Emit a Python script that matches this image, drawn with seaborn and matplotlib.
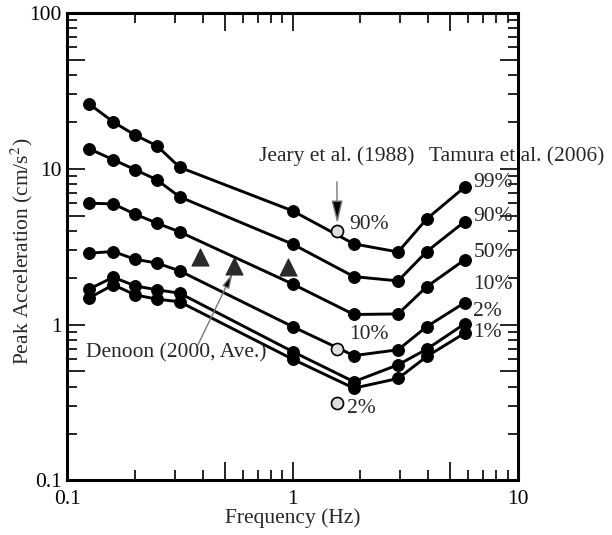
import numpy as np
import pandas as pd
import matplotlib
matplotlib.use("Agg")
import matplotlib.pyplot as plt
import matplotlib.ticker as mticker
import seaborn as sns

# ---- data ----
freq = [0.125, 0.16, 0.2, 0.25, 0.315, 1.0, 1.87, 2.94, 3.94, 5.8]
p99 = [26.0, 19.9, 16.4, 14.0, 10.2, 5.36, 3.29, 2.92, 4.76, 7.6]
p90 = [13.4, 11.4, 9.85, 8.47, 6.59, 3.28, 2.03, 1.905, 2.94, 4.57]
p50 = [6.0, 5.94, 5.1, 4.47, 3.93, 1.82, 1.16, 1.17, 1.75, 2.6]
p10 = [2.87, 2.94, 2.62, 2.48, 2.21, 0.97, 0.632, 0.689, 0.97, 1.38]
p2 = [1.69, 2.01, 1.77, 1.67, 1.59, 0.671, 0.43, 0.552, 0.695, 1.01]
p1 = [1.48, 1.80, 1.55, 1.455, 1.40, 0.60, 0.391, 0.451, 0.624, 0.88]
levels = ["99%", "90%", "50%", "10%", "2%", "1%"]

jeary_freq = [1.58, 1.58, 1.58]
jeary_acc = [3.99, 0.695, 0.316]
jeary_labels = ["90%", "10%", "2%"]

denoon_freq = [0.39, 0.548, 0.953]
denoon_acc = [2.73, 2.38, 2.33]

x_ticks = [0.1, 1, 10]
y_ticks = [0.1, 1, 10, 100]

# ---- build long-form table ----
series = [p99, p90, p50, p10, p2, p1]
df = pd.DataFrame({
    "freq": np.tile(freq, len(series)),
    "acc": np.concatenate(series),
    "level": np.repeat(levels, len(freq)),
})
df_j = pd.DataFrame({"freq": jeary_freq, "acc": jeary_acc})
df_d = pd.DataFrame({"freq": denoon_freq, "acc": denoon_acc})

sns.set_style("ticks")
plt.rcParams["font.family"] = ["Liberation Serif", "DejaVu Serif"]
plt.rcParams["mathtext.fontset"] = "stix"

fig = plt.figure(figsize=(6.12, 5.35), dpi=100)
ax = fig.add_axes([0.110, 0.1019, 0.7362, 0.8744])

sns.lineplot(data=df, x="freq", y="acc", hue="level", units="level",
             estimator=None, sort=False, palette=["black"] * len(levels),
             marker="o", markersize=8.5, markeredgecolor="black",
             linewidth=2.1, legend=False, ax=ax)

sns.scatterplot(data=df_d, x="freq", y="acc", marker="^", s=150,
                color="#2a2a2a", edgecolor="#2a2a2a", linewidth=0.8,
                legend=False, ax=ax, zorder=4)
sns.scatterplot(data=df_j, x="freq", y="acc", marker="o", s=75,
                color="#dedede", edgecolor="black", linewidth=1.2,
                legend=False, ax=ax, zorder=5)

ax.set_xscale("log")
ax.set_yscale("log")
ax.set_xlim(0.1, 10)
ax.set_ylim(0.1, 100)

tick_text = {0.1: "0.1", 1: "1", 10: "10", 100: "100"}

def fmt(v, pos):
    for k, s in tick_text.items():
        if abs(v - k) < 1e-9 * max(k, 1):
            return s
    return ""

ax.xaxis.set_major_locator(mticker.FixedLocator([0.1, 0.5, 1, 5, 10]))
ax.yaxis.set_major_locator(mticker.FixedLocator([0.1, 0.5, 1, 5, 10, 50, 100]))
ax.xaxis.set_major_formatter(mticker.FuncFormatter(fmt))
ax.yaxis.set_major_formatter(mticker.FuncFormatter(fmt))
ax.xaxis.set_minor_locator(mticker.LogLocator(base=10, subs=[2, 3, 4, 6, 7, 8, 9]))
ax.yaxis.set_minor_locator(mticker.LogLocator(base=10, subs=[2, 3, 4, 6, 7, 8, 9]))
ax.xaxis.set_minor_formatter(mticker.NullFormatter())
ax.yaxis.set_minor_formatter(mticker.NullFormatter())

ax.tick_params(which="both", direction="in", top=True, right=True,
               width=1.2, colors="black", labelsize=15.5)
ax.tick_params(which="major", length=13)
ax.tick_params(which="minor", length=7)
ax.tick_params(axis="x", which="major", pad=7)
ax.tick_params(axis="y", which="major", pad=4)
for sp in ax.spines.values():
    sp.set_linewidth(2.2)
    sp.set_color("black")

ax.set_xlabel("Frequency (Hz)", fontsize=15.5)
ax.set_ylabel("Peak Acceleration (cm/s$^2$)", fontsize=15.5)
ax.xaxis.set_label_coords(0.5, -0.060)
ax.yaxis.set_label_coords(-0.072, 0.49)

fs = 15.5
# right-side percentile labels (Tamura et al.)
right_label_y = [8.1, 4.9, 2.88, 1.8, 1.22, 0.885]
for lab, yy in zip(levels, right_label_y):
    ax.text(6.35, yy, lab, fontsize=fs, ha="left", va="center")
ax.text(4.05, 11.9, "Tamura et al. (2006)", fontsize=fs, ha="left", va="center")

# Jeary labels
jl_pos = [(1.79, 4.36), (1.79, 0.859), (1.75, 0.288)]
for lab, (xx, yy) in zip(jeary_labels, jl_pos):
    ax.text(xx, yy, lab, fontsize=fs, ha="left", va="center")
ax.annotate("Jeary et al. (1988)", xy=(1.58, 4.45), xytext=(1.567, 12.0),
            fontsize=fs, ha="center", va="center",
            arrowprops=dict(arrowstyle="-|>,head_length=0.9,head_width=0.22",
                            fc="black", ec="#777777", lw=1.0,
                            shrinkA=9, shrinkB=0))

# Denoon label
ax.text(0.303, 0.659, "Denoon (2000, Ave.)", fontsize=fs, ha="center", va="center")
ax.annotate("", xy=(0.542, 2.14), xytext=(0.38, 0.741),
            arrowprops=dict(arrowstyle="-|>,head_length=0.9,head_width=0.22",
                            fc="black", ec="#777777", lw=1.0,
                            shrinkA=0, shrinkB=0))

fig.savefig("out.png", dpi=100)
